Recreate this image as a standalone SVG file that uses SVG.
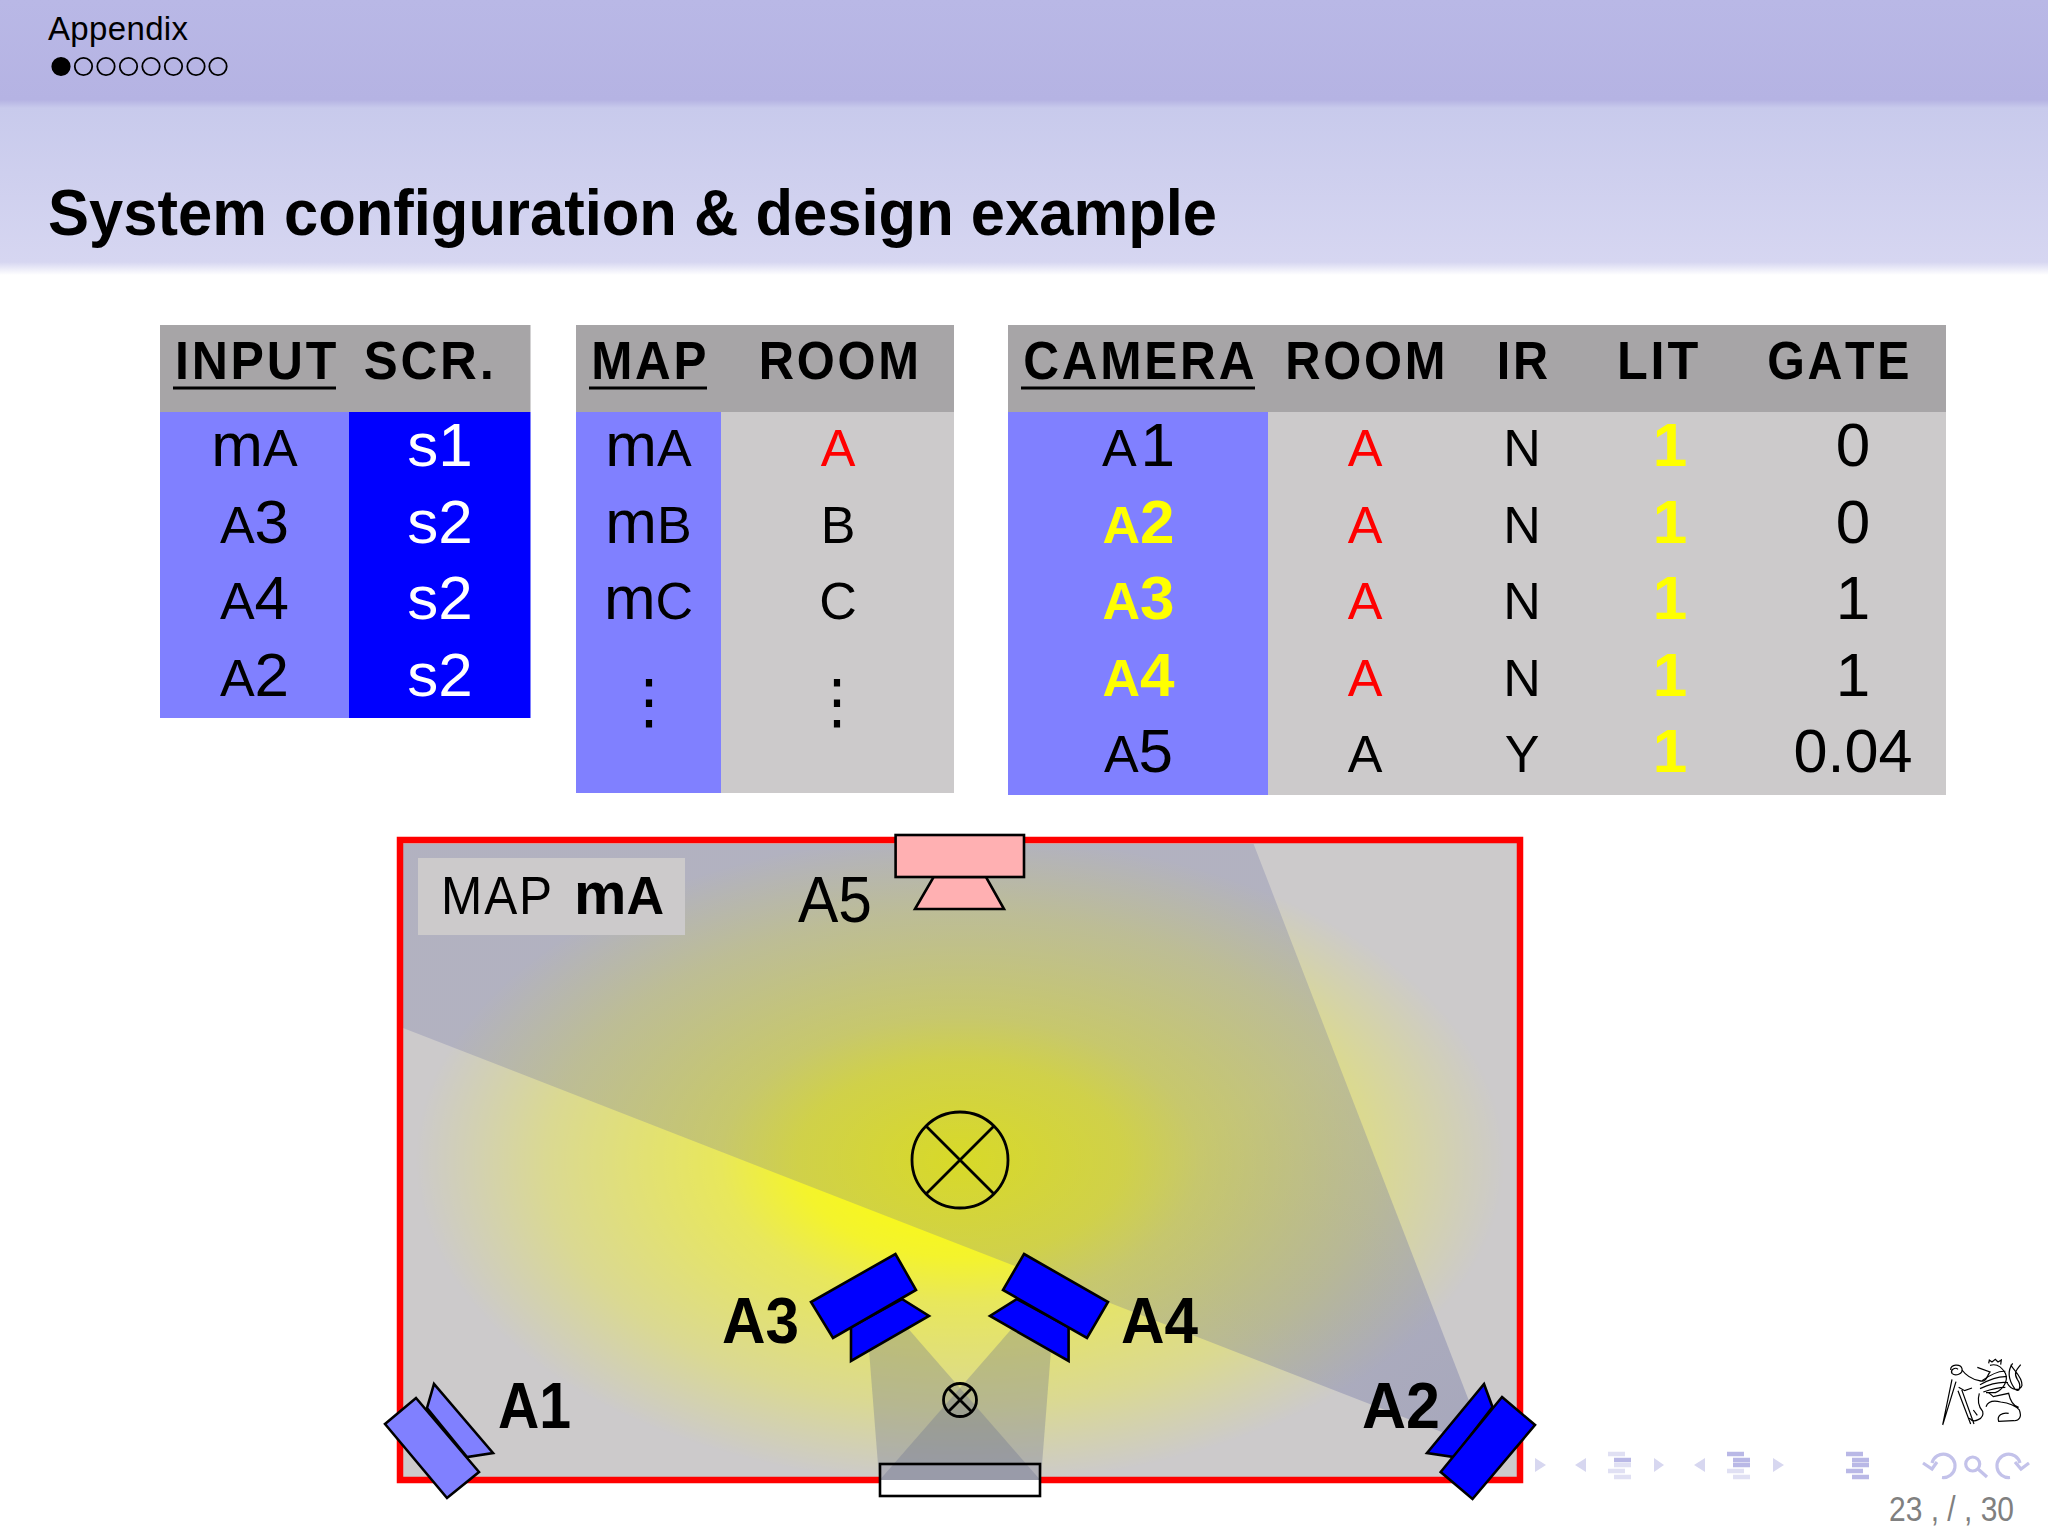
<svg xmlns="http://www.w3.org/2000/svg" width="2048" height="1536" viewBox="0 0 2048 1536">
<style>
text{font-family:"Liberation Sans",Arial,sans-serif;fill:#000;font-kerning:none}
.h{font-size:54px;font-weight:700;letter-spacing:3px}
.c{text-anchor:middle;font-size:62px}
.s{font-size:52px}
.b{font-weight:700}
.cell{font-size:52px;text-anchor:middle}
.red{fill:#f00}.yel{fill:#ff0}.wht{fill:#fff}
.cam{stroke:#000;stroke-width:2.6;stroke-linejoin:miter}
.blue{fill:#00f}.lb{fill:#8080ff}
.hd{fill:#a7a5a7}.bc{fill:#8080ff}.dc{fill:#00f}.gc{fill:#cccacb}
.ul{stroke:#000;stroke-width:3}
.lamp{fill:none;stroke:#000;stroke-width:2.8}
.dia{font-size:64px;font-weight:700}
.nav{fill:#d7d7f0}
.ln1{stroke:#b9b8e6;stroke-width:4.5}.ln2{stroke:#e0e0f3;stroke-width:4.5}.ln3{stroke:#b9b8e6;stroke-width:4.5}
.ic{fill:none;stroke:#c3c2ea;stroke-width:3.2}
.lg{fill:none;stroke:#000;stroke-width:3.6}
.vd{font-family:"DejaVu Sans",sans-serif;font-size:60px;text-anchor:middle}
</style>
<defs>
<linearGradient id="bt" x1="0" y1="0" x2="0" y2="1"><stop offset="0" stop-color="#b9b8e6"/><stop offset="1" stop-color="#b5b3e3"/></linearGradient>
<linearGradient id="bb" x1="0" y1="0" x2="0" y2="1"><stop offset="0" stop-color="#c8caec"/><stop offset="1" stop-color="#d6d6f1"/></linearGradient>
<linearGradient id="fd" x1="0" y1="0" x2="0" y2="1"><stop offset="0" stop-color="#d6d6f1"/><stop offset="1" stop-color="#fff"/></linearGradient>
<linearGradient id="fm" x1="0" y1="0" x2="0" y2="1"><stop offset="0" stop-color="#b5b3e3"/><stop offset="1" stop-color="#c8caec"/></linearGradient>
<radialGradient id="glow" gradientUnits="userSpaceOnUse" cx="0" cy="0" r="1" gradientTransform="translate(960 1160) scale(545 325)">
<stop offset="0" stop-color="#ff0" stop-opacity="1"/><stop offset=".3" stop-color="#ff0" stop-opacity=".78"/><stop offset=".44" stop-color="#ff0" stop-opacity=".55"/><stop offset=".76" stop-color="#ff0" stop-opacity=".28"/><stop offset="1" stop-color="#ff0" stop-opacity="0"/>
</radialGradient>
<radialGradient id="wedge" gradientUnits="userSpaceOnUse" cx="1488" cy="1450" r="420">
<stop offset="0" stop-color="#6469a0" stop-opacity=".36"/><stop offset="1" stop-color="#6469a0" stop-opacity=".25"/>
</radialGradient>
<clipPath id="room"><rect x="400" y="840" width="1120" height="640"/></clipPath>
</defs>

<g id="banner">
<rect width="2048" height="100" fill="url(#bt)"/>
<rect y="100" width="2048" height="8" fill="url(#fm)"/>
<rect y="108" width="2048" height="154" fill="url(#bb)"/>
<rect y="262" width="2048" height="13" fill="url(#fd)"/>
<text x="48" y="39.5" font-size="33" textLength="140">Appendix</text>
<g id="progress" fill="none" stroke="#000" stroke-width="1.8">
<circle cx="61" cy="66.5" r="8.7" fill="#000"/><circle cx="83.5" cy="66.5" r="8.7"/><circle cx="106" cy="66.5" r="8.7"/><circle cx="128.5" cy="66.5" r="8.7"/><circle cx="151" cy="66.5" r="8.7"/><circle cx="173.5" cy="66.5" r="8.7"/><circle cx="196" cy="66.5" r="8.7"/><circle cx="218" cy="66.5" r="8.7"/>
</g>
<text x="48" y="235" font-size="64" class="b" textLength="1169" lengthAdjust="spacingAndGlyphs">System configuration &amp; design example</text>
</g>

<g id="table-input">
<rect x="160" y="325" width="370.500" height="87" class="hd"/>
<rect x="160" y="412" width="189" height="306" class="bc"/>
<rect x="349" y="412" width="181.500" height="306" class="dc"/>
<text class="h" x="175" y="379" textLength="164" lengthAdjust="spacingAndGlyphs">INPUT</text>
<line class="ul" x1="173" y1="388" x2="336" y2="388"/>
<text class="h" x="363.700" y="379" textLength="133" lengthAdjust="spacingAndGlyphs">SCR.</text>
<text class="c" x="254.500" y="466">m<tspan class="s">A</tspan></text>
<text class="c" x="254.500" y="543"><tspan class="s">A</tspan>3</text>
<text class="c" x="254.500" y="619"><tspan class="s">A</tspan>4</text>
<text class="c" x="254.500" y="696"><tspan class="s">A</tspan>2</text>
<text class="c wht" x="440" y="466">s1</text>
<text class="c wht" x="440" y="543">s2</text>
<text class="c wht" x="440" y="619">s2</text>
<text class="c wht" x="440" y="696">s2</text>
</g>

<g id="table-map">
<rect x="576" y="325" width="378" height="87" class="hd"/>
<rect x="576" y="412" width="145" height="381" class="bc"/>
<rect x="721" y="412" width="233" height="381" class="gc"/>
<text class="h" x="591.200" y="379" textLength="118" lengthAdjust="spacingAndGlyphs">MAP</text>
<line class="ul" x1="589" y1="388" x2="707" y2="388"/>
<text class="h" x="758.700" y="379" textLength="163" lengthAdjust="spacingAndGlyphs">ROOM</text>
<text class="c" x="648.500" y="466">m<tspan class="s">A</tspan></text>
<text class="c" x="648.500" y="543">m<tspan class="s">B</tspan></text>
<text class="c" x="648.500" y="619">m<tspan class="s">C</tspan></text>
<text class="cell red" x="838" y="466">A</text>
<text class="cell" x="838" y="543">B</text>
<text class="cell" x="838" y="619">C</text>
<text class="vd" x="649" y="722">⋮</text>
<text class="vd" x="837" y="722">⋮</text>
</g>

<g id="table-camera">
<rect x="1008" y="325" width="938" height="87" class="hd"/>
<rect x="1008" y="412" width="260" height="383" class="bc"/>
<rect x="1268" y="412" width="678" height="383" class="gc"/>
<text class="h" x="1023.200" y="379" textLength="234" lengthAdjust="spacingAndGlyphs">CAMERA</text>
<line class="ul" x1="1021" y1="388" x2="1255" y2="388"/>
<text class="h" x="1285.200" y="379" textLength="163" lengthAdjust="spacingAndGlyphs">ROOM</text>
<text class="h" x="1496.700" y="379" textLength="54" lengthAdjust="spacingAndGlyphs">IR</text>
<text class="h" x="1617" y="379" textLength="84" lengthAdjust="spacingAndGlyphs">LIT</text>
<text class="h" x="1767.200" y="379" textLength="145" lengthAdjust="spacingAndGlyphs">GATE</text>
<text class="c" x="1138.500" y="466"><tspan class="s">A</tspan><tspan dx="4">1</tspan></text>
<text class="c yel b" x="1138.500" y="543"><tspan class="s">A</tspan>2</text>
<text class="c yel b" x="1138.500" y="619"><tspan class="s">A</tspan>3</text>
<text class="c yel b" x="1138.500" y="696"><tspan class="s">A</tspan>4</text>
<text class="c" x="1138.500" y="772"><tspan class="s">A</tspan>5</text>
<text class="cell red" x="1365" y="466">A</text><text class="cell red" x="1365" y="543">A</text><text class="cell red" x="1365" y="619">A</text><text class="cell red" x="1365" y="696">A</text><text class="cell" x="1365" y="772">A</text>
<text class="cell" x="1522" y="466">N</text><text class="cell" x="1522" y="543">N</text><text class="cell" x="1522" y="619">N</text><text class="cell" x="1522" y="696">N</text><text class="cell" x="1522" y="772">Y</text>
<text class="c yel b" x="1670" y="466">1</text><text class="c yel b" x="1670" y="543">1</text><text class="c yel b" x="1670" y="619">1</text><text class="c yel b" x="1670" y="696">1</text><text class="c yel b" x="1670" y="772">1</text>
<text class="c" x="1853" y="466">0</text><text class="c" x="1853" y="543">0</text><text class="c" x="1853" y="619">1</text><text class="c" x="1853" y="696">1</text><text class="c" x="1853" y="772" textLength="119" lengthAdjust="spacingAndGlyphs">0.04</text>
</g>

<g id="room">
<rect x="400" y="840" width="1120" height="640" fill="#cccacb"/>
<rect x="400" y="840" width="1120" height="640" fill="url(#glow)"/>
<polygon points="403,844 1253.600,844 1488,1450 403,1028" fill="url(#wedge)"/>
<rect x="400" y="840" width="1120" height="640" fill="none" stroke="#f00" stroke-width="6.500"/>
</g>

<g id="screen">
<rect x="880" y="1464" width="160" height="32" fill="#fff"/>
<rect x="880" y="1464" width="160" height="16" fill="#d1cecb"/>
<g clip-path="url(#room)" fill="#64698c" fill-opacity=".3">
<polygon points="869,1350 905,1325 1049,1490 880,1490"/>
<polygon points="1051,1350 1015,1325 871,1490 1040,1490"/>
</g>
<rect x="880" y="1464" width="160" height="32" fill="none" stroke="#000" stroke-width="2.600"/>
</g>

<g id="lamp-main"><circle cx="960" cy="1160" r="48" class="lamp"/><path class="lamp" d="M926 1126L994 1194M994 1126L926 1194"/></g>
<g id="lamp-small"><circle cx="960" cy="1400" r="16.500" class="lamp"/><path class="lamp" d="M948.300 1388.300L971.700 1411.700M971.700 1388.300L948.300 1411.700"/></g>

<g id="label-map"><rect x="418" y="858" width="267" height="77" fill="#cccacb"/>
<text x="441" y="914" font-size="53" textLength="113" lengthAdjust="spacingAndGlyphs" letter-spacing="2">MAP</text>
<text x="574" y="914" font-size="60" class="b" textLength="90" lengthAdjust="spacingAndGlyphs">m<tspan font-size="53">A</tspan></text></g>

<g id="camera-a5">
<polygon class="cam" fill="#ffb0b2" points="933.600,877 986,877 1004,909 915,909"/>
<rect class="cam" fill="#ffb0b2" x="895.600" y="835" width="128.400" height="42"/>
<text x="798" y="921.500" font-size="64" textLength="74" lengthAdjust="spacingAndGlyphs">A5</text>
</g>
<g id="camera-a1">
<polygon class="cam lb" points="427,1408 434,1384 493,1453 467,1457"/>
<polygon class="cam lb" points="385,1424 416,1398 479,1472 447,1498"/>
<text class="dia" x="498" y="1428" textLength="73" lengthAdjust="spacingAndGlyphs">A1</text>
</g>
<g id="camera-a2">
<polygon class="cam blue" points="1484,1384 1492.500,1407 1454,1457 1427,1453"/>
<polygon class="cam blue" points="1502,1397 1535,1425 1472.500,1499 1440.700,1472"/>
<text class="dia" x="1362" y="1428" textLength="78" lengthAdjust="spacingAndGlyphs">A2</text>
</g>
<g id="camera-a3">
<polygon class="cam blue" points="902,1299 929,1316 851,1361 851,1327"/>
<polygon class="cam blue" points="895.400,1254 916,1290 833,1338 811,1302"/>
<text class="dia" x="722" y="1342.700" textLength="77" lengthAdjust="spacingAndGlyphs">A3</text>
</g>
<g id="camera-a4">
<polygon class="cam blue" points="1017,1299 1068.600,1327 1068.600,1361 990,1316"/>
<polygon class="cam blue" points="1024,1254 1108,1302 1087,1338 1003,1290"/>
<text class="dia" x="1121" y="1342.700" textLength="77" lengthAdjust="spacingAndGlyphs">A4</text>
</g>

<g id="logo" transform="translate(1930 1350) scale(.3333)">
<path class="lg" d="M38 225L66 88M38 225L78 95M62 60C60 42 92 40 96 56C100 72 76 80 66 70C60 60 76 50 84 58"/>
<path class="lg" d="M96 60C112 82 128 88 148 92C170 100 172 74 180 66L142 52M176 40L178 30L186 36L196 28L204 36L214 30L212 44M180 46C200 40 216 52 226 70C236 92 220 118 196 128L168 128"/>
<path class="lg" d="M156 92C176 78 206 62 226 64M150 104C176 90 204 78 230 80M150 116C176 104 206 94 234 98M160 126C182 118 208 112 226 112"/>
<path class="lg" d="M248 40C232 62 236 90 254 116C268 132 276 108 262 88C248 66 264 56 272 44M242 44C250 60 278 80 276 106C270 124 244 122 232 100"/>
<path class="lg" d="M86 112L104 122L126 114M84 122L122 222M94 116L132 222M148 130C142 150 146 170 158 184C164 206 130 222 118 204M168 170C176 150 196 152 212 156C238 158 260 170 268 180C276 200 268 214 250 212L206 214C200 198 216 186 236 190M176 128L190 140L236 130C240 150 250 168 266 172M130 180L142 196"/>
</g>

<g id="nav">
<polygon class="nav" points="1535,1458 1546,1465 1535,1472"/>
<polygon class="nav" points="1586,1458 1575,1465 1586,1472"/>
<path class="ln2" d="M1608 1454H1625M1608 1471H1625"/><path class="ln1" d="M1614 1460H1631"/><path class="ln2" d="M1614 1465H1631M1614 1477H1631"/>
<polygon class="nav" points="1654,1458 1664,1465 1654,1472"/>
<polygon class="nav" points="1705,1458 1694,1465 1705,1472"/>
<path class="ln1" d="M1727 1454H1744"/><path class="ln1" d="M1733 1460H1750M1733 1465H1750"/><path class="ln2" d="M1727 1471H1744M1733 1477H1750"/>
<polygon class="nav" points="1773,1458 1784,1465 1773,1472"/>
<path class="ln3" d="M1846 1454H1863M1852 1460H1869M1852 1465H1869M1846 1471H1863M1852 1477H1869"/>
<path class="ic" d="M1932 1463A11.700 11.700 0 1 1 1942 1477.500M1923 1463L1932 1469L1937 1462"/>
<circle class="ic" cx="1972.700" cy="1464" r="7"/><path class="ic" d="M1978 1469L1987 1477"/>
<path class="ic" d="M2020 1463A11.700 11.700 0 1 0 2010 1477.500M2029 1463L2021 1469L2015 1462"/>
<text x="1889" y="1521" font-size="35" style="fill:#808080" textLength="125" lengthAdjust="spacingAndGlyphs">23 , / , 30</text>
</g>
</svg>
